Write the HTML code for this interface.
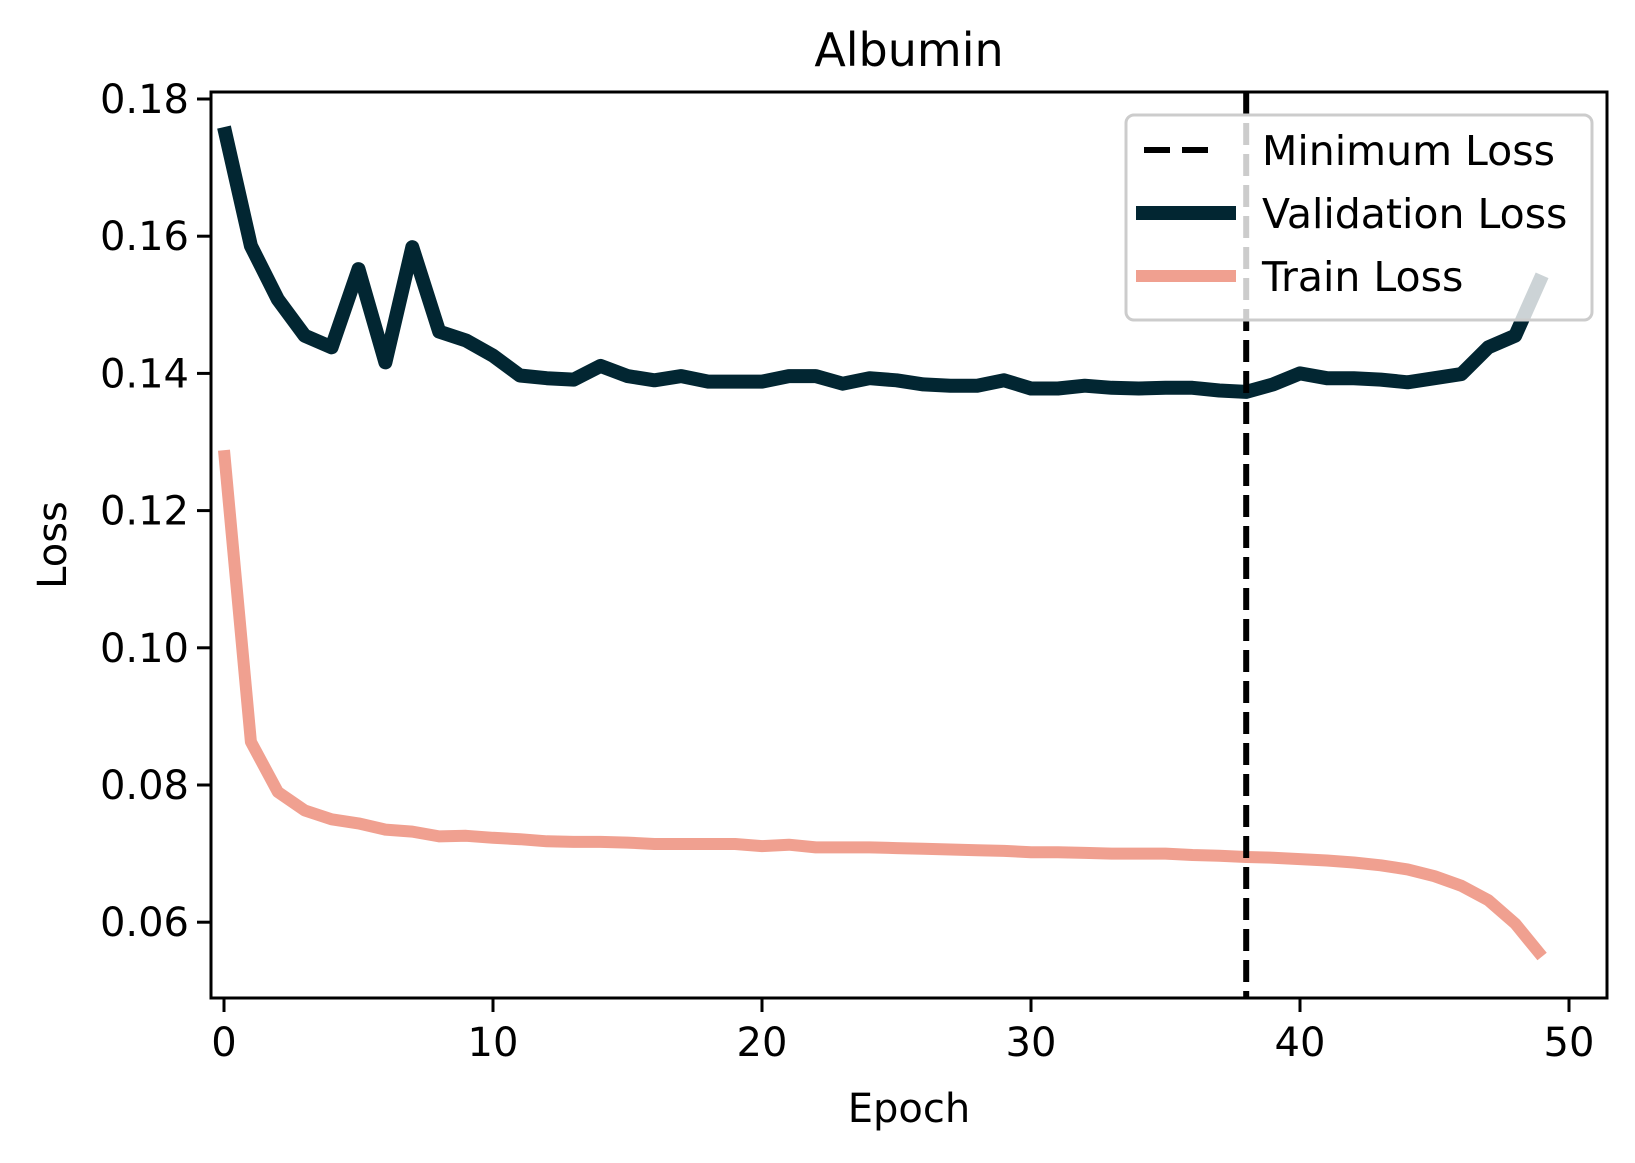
<!DOCTYPE html>
<html><head><meta charset="utf-8"><style>
body{margin:0;background:#fff}
svg text{font-family:"DejaVu Sans","Liberation Sans",sans-serif;fill:#000}
</style></head><body>
<svg id="chart" width="1635" height="1158" viewBox="0 0 1635 1158" xmlns="http://www.w3.org/2000/svg">
<rect width="1635" height="1158" fill="#fff"/>
<g id="plot"></g>
</svg>
<script>
const epochs = Array.from({length:50},(_, i)=>i);
const valLoss = [0.1759,0.1586,0.1508,0.1455,0.1438,0.1552,0.1416,0.1584,0.1461,0.1448,0.1426,0.1397,0.1393,0.1391,0.1411,0.1396,0.1390,0.1396,0.1388,0.1388,0.1388,0.1396,0.1396,0.1385,0.1393,0.1390,0.1384,0.1382,0.1382,0.1390,0.1378,0.1378,0.1382,0.1379,0.1378,0.1379,0.1379,0.1375,0.1373,0.1384,0.1400,0.1393,0.1393,0.1391,0.1387,0.1393,0.1399,0.1438,0.1455,0.1543];
const trainLoss = [0.1288,0.0863,0.0790,0.0763,0.0750,0.0744,0.0735,0.0732,0.0725,0.0726,0.0723,0.0721,0.0718,0.0717,0.0717,0.0716,0.0714,0.0714,0.0714,0.0714,0.0711,0.0713,0.0709,0.0709,0.0709,0.0708,0.0707,0.0706,0.0705,0.0704,0.0702,0.0702,0.0701,0.0700,0.0700,0.0700,0.0698,0.0697,0.0695,0.0694,0.0692,0.0690,0.0687,0.0683,0.0677,0.0667,0.0653,0.0632,0.0598,0.0550];
const minEpoch = 38;
const xTicks = [0,10,20,30,40,50];
const yTicks = [0.06,0.08,0.10,0.12,0.14,0.16,0.18];
const yTickLabels = ["0.06","0.08","0.10","0.12","0.14","0.16","0.18"];

const L=211,R=1607,T=92,B=998;
const X=v=>224+v*26.9;
const Y=v=>99+(0.18-v)*6860;
const NS="http://www.w3.org/2000/svg";
const g=document.getElementById('plot');
function mk(tag,attrs,parent){const e=document.createElementNS(NS,tag);for(const k in attrs)e.setAttribute(k,attrs[k]);(parent||g).appendChild(e);return e;}

const clip=mk('clipPath',{id:'clip'});mk('rect',{x:L,y:T,width:R-L,height:B-T},clip);
const pts=a=>a.map((v,i)=>X(epochs[i]).toFixed(1)+','+Y(v).toFixed(1)).join(' ');
let e=mk('polyline',{points:pts(trainLoss),fill:'none',stroke:'#f0a090','stroke-width':12,'stroke-linejoin':'round','clip-path':'url(#clip)'});


e=mk('polyline',{points:pts(valLoss),fill:'none',stroke:'#022632','stroke-width':14,'stroke-linejoin':'round','clip-path':'url(#clip)'});


e=mk('line',{x1:X(minEpoch),x2:X(minEpoch),y1:T,y2:B,stroke:'#000','stroke-width':6,'stroke-dasharray':'22,9'});



e=mk('rect',{x:L,y:T,width:R-L,height:B-T,fill:'none',stroke:'#000','stroke-width':3});



xTicks.forEach(t=>{
  mk('line',{x1:X(t),x2:X(t),y1:B,y2:B+14,stroke:'#000','stroke-width':3});
  const tx=mk('text',{x:X(t),y:B+58,'font-size':40,'text-anchor':'middle'});tx.textContent=t;
  
  
});
yTicks.forEach((t,i)=>{
  mk('line',{x1:L-14,x2:L,y1:Y(t),y2:Y(t),stroke:'#000','stroke-width':3});
  const tx=mk('text',{x:L-22,y:Y(t)+14,'font-size':40,'text-anchor':'end'});tx.textContent=yTickLabels[i];
  
  
});
let t=mk('text',{x:(L+R)/2,y:66,'font-size':46,'text-anchor':'middle'});t.textContent='Albumin';


t=mk('text',{x:(L+R)/2,y:1122,'font-size':40,'text-anchor':'middle'});t.textContent='Epoch';


t=mk('text',{x:0,y:0,'font-size':40,'text-anchor':'middle',transform:'translate(66,'+((T+B)/2)+') rotate(-90)'});t.textContent='Loss';



const lg=mk('g',{});


mk('rect',{x:1126,y:115,width:466,height:205,rx:8,fill:'rgba(255,255,255,0.8)',stroke:'#cccccc','stroke-width':3},lg);
const items=[['Minimum Loss','#000',6,'26,12'],['Validation Loss','#022632',14,''],['Train Loss','#f0a090',12,'']];
items.forEach((it,i)=>{
  const y=150+i*63;
  const ln=mk('line',{x1:it[3]?1144:1136,x2:it[3]?1220:1236,y1:y,y2:y,stroke:it[1],'stroke-width':it[2]},lg);
  if(it[3])ln.setAttribute('stroke-dasharray',it[3]);
  const tx=mk('text',{x:1262,y:y+15,'font-size':41},lg);tx.textContent=it[0];
  
  
});
</script>
</body></html>
